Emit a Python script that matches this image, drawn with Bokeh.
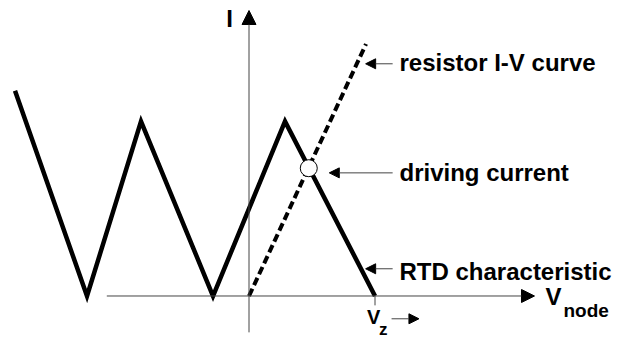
from bokeh.plotting import figure
from bokeh.models import Range1d, Arrow, NormalHead, Label
from bokeh.embed import file_html
from bokeh.resources import INLINE

# ---- data (V in arbitrary units, I in arbitrary units) ----
rtd_v = [-6.5, -4.5, -3.0, -1.0, 1.0, 3.5]
rtd_i = [5.7, 0.0, 4.85, 0.0, 4.85, 0.0]
res_v = [0.0, 3.25]
res_i = [0.0, 7.0]
op_v = [1.66]
op_i = [3.55]
vz_v = [3.5, 3.5]
vz_i = [0.0, -0.26]

FONT = "Liberation Sans"
INK = "black"
AX = "#444444"
PX = 36.0  # pixels per data unit

p = figure(width=624, height=341, output_backend="svg", toolbar_location=None,
           x_axis_type=None, y_axis_type=None, min_border=0,
           x_range=Range1d(-6.903, 10.430), y_range=Range1d(-1.264, 8.208))
p.outline_line_color = None
p.grid.visible = False
p.background_fill_color = "white"
p.border_fill_color = "white"

# axes (thin lines with arrow heads)
p.add_layout(Arrow(end=NormalHead(size=13, fill_color=INK, line_color=INK),
                   x_start=-3.95, y_start=0, x_end=7.93, y_end=0,
                   line_color=AX, line_width=1))
p.add_layout(Arrow(end=NormalHead(size=14, fill_color=INK, line_color=INK),
                   x_start=0, y_start=-1.01, x_end=0, y_end=7.93,
                   line_color=AX, line_width=1))
p.line(vz_v, vz_i, line_color=AX, line_width=1)

# RTD characteristic
p.line(rtd_v, rtd_i, line_color=INK, line_width=4.5, line_join="miter")
# resistor I-V curve
p.line(res_v, res_i, line_color=INK, line_width=4, line_dash="8 4")
# operating point
p.scatter(op_v, op_i, size=17, fill_color="white", line_color=INK, line_width=1)

# annotation arrows
for xs, xe, y in [(3.99, 3.24, 6.45), (3.99, 2.23, 3.42), (3.99, 3.24, 0.756),
                  (3.96, 4.72, -0.633)]:
    p.add_layout(Arrow(end=NormalHead(size=10, fill_color=INK, line_color=INK),
                       x_start=xs, y_start=y, x_end=xe, y_end=y,
                       line_color=AX, line_width=1))

def lab(x, y, t, size):
    y = y + 0.33 * size / PX
    p.add_layout(Label(x=x, y=y, text=t, text_font=FONT, text_font_style="bold",
                       text_font_size=f"{size}px", text_color=INK,
                       text_align="left", text_baseline="alphabetic"))

lab(4.18, 6.26, "resistor I-V curve", 24)
lab(4.18, 3.21, "driving current", 24)
lab(4.18, 0.458, "RTD characteristic", 24)
lab(-0.63, 7.486, "I", 24)
lab(8.236, -0.236, "V", 24)
lab(8.736, -0.589, "node", 19)
lab(3.28, -0.772, "V", 20)
lab(3.61, -1.078, "z", 17)

open("out.html", "w").write(file_html(p, INLINE))
